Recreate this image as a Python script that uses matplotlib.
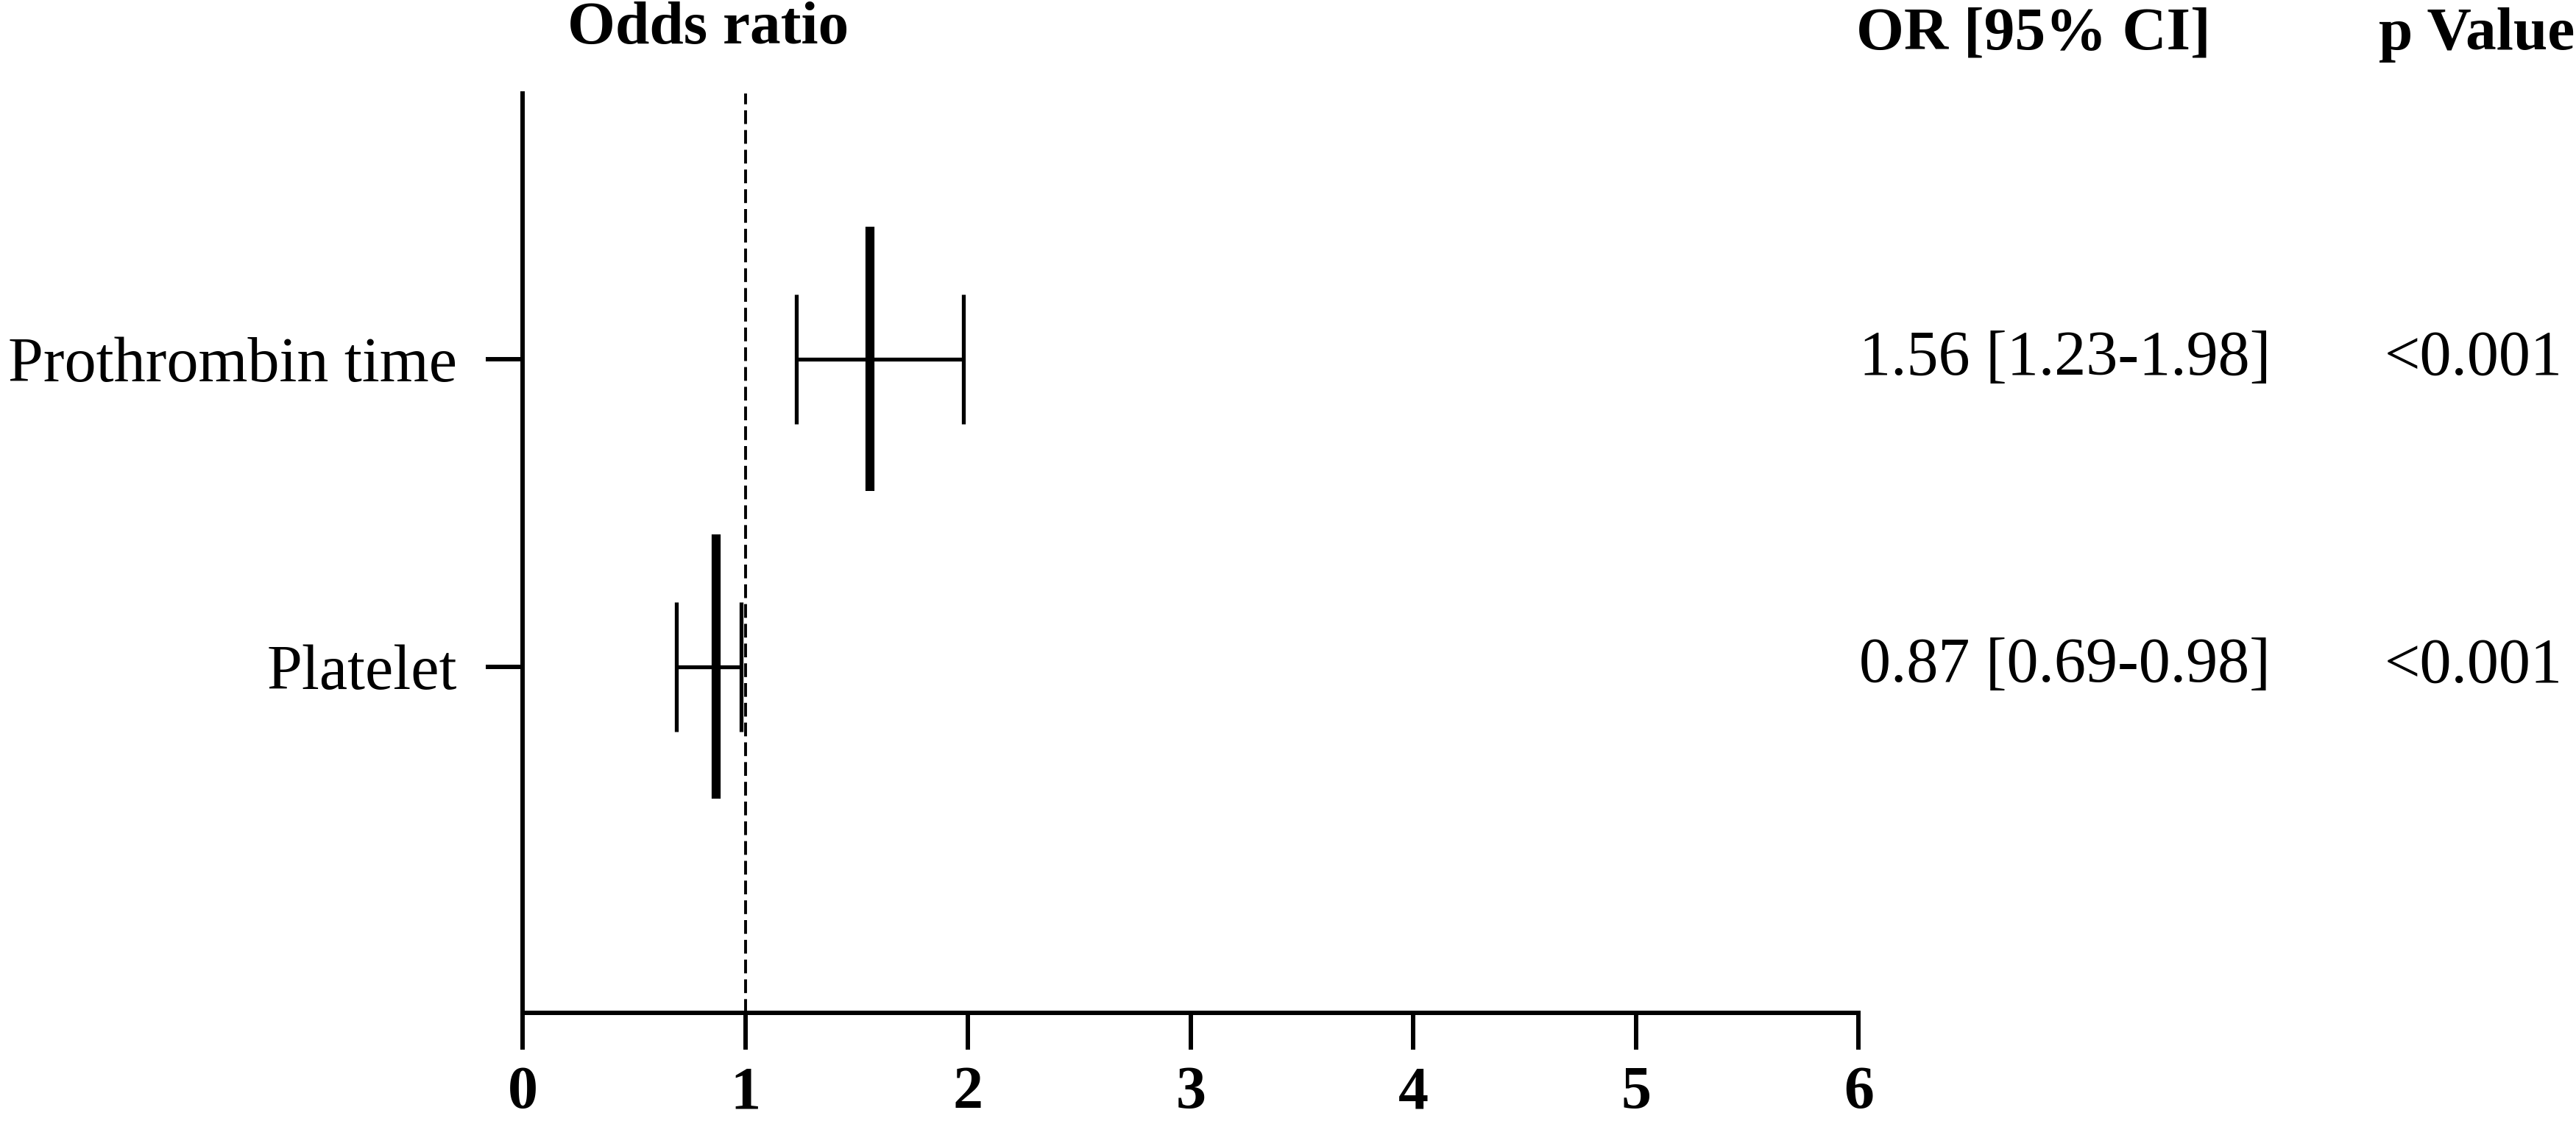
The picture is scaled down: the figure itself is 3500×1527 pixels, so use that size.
import numpy as np
import matplotlib
matplotlib.use("Agg")
import matplotlib.pyplot as plt
from matplotlib.transforms import blended_transform_factory

plt.rcParams["font.family"] = ["Liberation Serif", "DejaVu Serif"]

# data
labels = ["Prothrombin time", "Platelet"]
odds = [1.56, 0.87]
ci_low = [1.23, 0.69]
ci_high = [1.98, 0.98]
or_text = ["1.56 [1.23-1.98]", "0.87 [0.69-0.98]"]
p_text = ["<0.001", "<0.001"]
x_ticks = [0, 1, 2, 3, 4, 5, 6]

rows = np.arange(len(labels))[::-1] + 1  # top row first

fig = plt.figure(figsize=(35, 15.27), dpi=100)
ax = fig.add_axes([0.2029, 0.0989, 0.5186, 0.8179])

lw_axis = 4.3
lw_ci = 3.8
ax.axvline(1, color="black", lw=2.8, dashes=(4.8, 2.1), zorder=1)

ax.hlines(rows, ci_low, ci_high, color="black", lw=lw_ci, zorder=2)
ax.vlines(ci_low, rows - 0.21, rows + 0.21, color="black", lw=lw_ci, zorder=2)
ax.vlines(ci_high, rows - 0.21, rows + 0.21, color="black", lw=lw_ci, zorder=2)
ax.vlines(odds, rows - 0.43, rows + 0.43, color="black", lw=8.8, zorder=3)

ax.set_xlim(0, 6)
ax.set_ylim(-0.125, 2.863)
ax.set_xticks(x_ticks)
ax.set_xticklabels([str(t) for t in x_ticks], fontsize=59, fontweight="bold")
ax.set_yticks(rows)
ax.set_yticklabels(labels, fontsize=62)

for s in ["top", "right"]:
    ax.spines[s].set_visible(False)
for s in ["left", "bottom"]:
    ax.spines[s].set_linewidth(lw_axis)
ax.tick_params(axis="both", direction="out", length=36, width=lw_axis)
ax.tick_params(axis="x", pad=16)
ax.tick_params(axis="y", pad=28)

# table columns to the right of the plot
trans = blended_transform_factory(fig.transFigure, ax.transData)
for y, t, p in zip(rows, or_text, p_text):
    ax.text(0.7217, y, t, transform=trans, fontsize=62, ha="left", va="center")
    ax.text(0.9257, y, p, transform=trans, fontsize=62, ha="left", va="center")

fig.text(0.2749, 0.974, "Odds ratio", fontsize=60, fontweight="bold", ha="center", va="center")
fig.text(0.7206, 0.969, "OR [95% CI]", fontsize=60, fontweight="bold", ha="left", va="center")
fig.text(0.9234, 0.969, "p Value", fontsize=60, fontweight="bold", ha="left", va="center")

fig.savefig("out.png", dpi=100, facecolor="white")
